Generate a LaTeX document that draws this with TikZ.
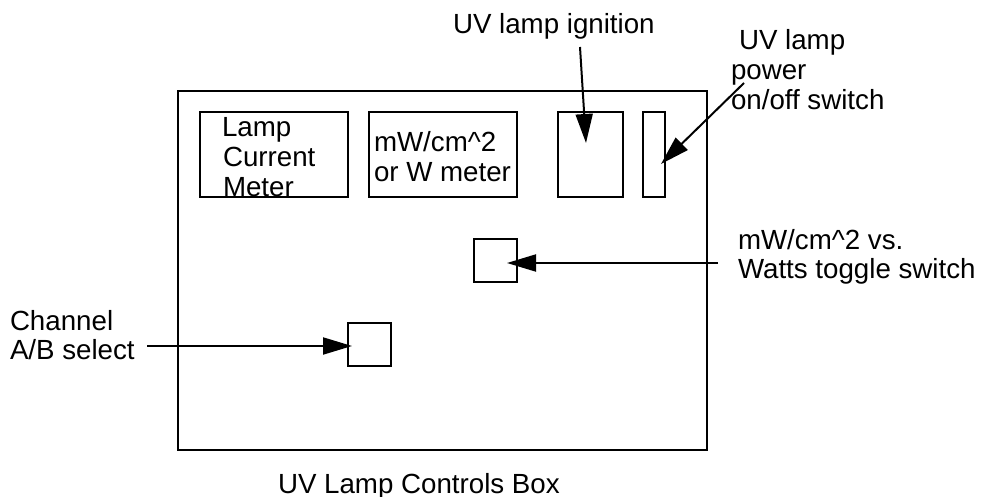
\documentclass[tikz,border=0pt]{standalone}
\usepackage{fontspec}
\setmainfont{Liberation Sans}
\usetikzlibrary{arrows.meta}
\begin{document}
\begin{tikzpicture}[x=1pt,y=-1pt,
  box/.style={draw, line width=2pt, inner sep=0pt, outer sep=0pt},
  txt/.style={anchor=base west, inner sep=0pt, outer sep=0pt, font=\fontsize{27.7}{30}\selectfont},
  arr/.style={line width=2pt, -{Triangle[length=29pt,width=17pt]}}]
\useasboundingbox (0,0) rectangle (983,497);
% texts
\node[txt] (tlamp1) at (222,137) {Lamp};
\node[txt] (tlamp2) at (223,167) {Current};
\node[txt] (tlamp3) at (223,197) {Meter};
\node[txt] (tmw1) at (374,152) {mW/cm\^{}2};
\node[txt] (tmw2) at (374,182) {or W meter};
\node[txt] (tign) at (453,34) {UV lamp ignition};
\node[txt] (tpwr1) at (739,50) {UV lamp};
\node[txt] (tpwr2) at (731,80) {power};
\node[txt] (tpwr3) at (731,110) {on/off switch};
\node[txt] (ttog1) at (738,250) {mW/cm\^{}2 vs.};
\node[txt] (ttog2) at (738,279) {Watts toggle switch};
\node[txt] (tchan1) at (10,330) {Channel};
\node[txt] (tchan2) at (10,359) {A/B select};
\node[txt] (tbox) at (278,493) {UV Lamp Controls Box};
% boxes
\node[box, minimum width=529pt, minimum height=359pt] (ctrl) at (442.5,270.5) {};
\node[box, minimum width=148pt, minimum height=85pt] (meter) at (274,154.5) {};
\node[box, minimum width=148pt, minimum height=85pt] (mw) at (443,154.5) {};
\node[box, minimum width=65pt, minimum height=85pt] (ign) at (590.5,154.5) {};
\node[box, minimum width=22pt, minimum height=85pt] (pwr) at (654,154.5) {};
\node[box, minimum width=43pt, minimum height=43pt] (tog) at (495.5,260.5) {};
\node[box, minimum width=43pt, minimum height=43pt] (chan) at (369.5,344.5) {};
% arrows
\coordinate (chanFrom) at (147,346);
\coordinate (chanTip) at (352,346);
\coordinate (togFrom) at (718,263);
\coordinate (togTip) at (507,263);
\coordinate (ignFrom) at (580,47);
\coordinate (ignTip) at (586,143);
\coordinate (pwrFrom) at (744,83);
\coordinate (pwrTip) at (661,164);
\draw[arr] (chanFrom) -- (chanTip);
\draw[arr] (togFrom) -- (togTip);
\draw[arr] (ignFrom) -- (ignTip);
\draw[arr] (pwrFrom) -- (pwrTip);
\end{tikzpicture}
\end{document}
